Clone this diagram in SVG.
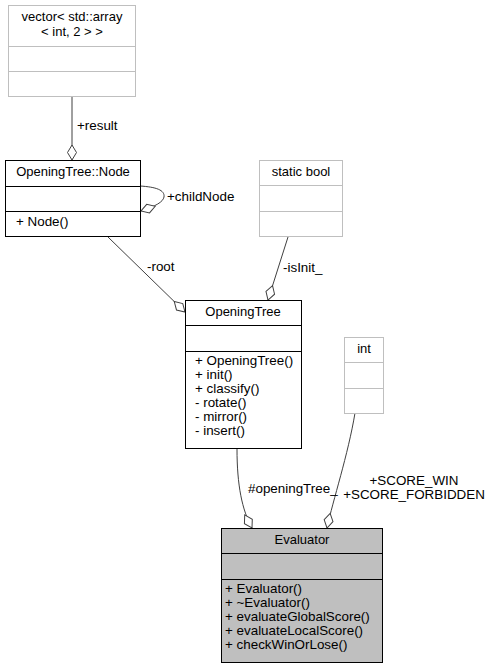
<svg xmlns="http://www.w3.org/2000/svg" width="491" height="669" viewBox="0 0 491 669">
<style>
text{font-family:"Liberation Sans",Arial,sans-serif;font-size:13.4px;fill:#000}
.t{text-anchor:middle;font-size:13px}
.c{text-anchor:middle}
.box{fill:#fff;stroke:#000;stroke-width:1}
.ext{fill:#fff;stroke:#bfbfbf;stroke-width:1}
.sel{fill:#bfbfbf;stroke:#000;stroke-width:1}
.ln{stroke:#000;stroke-width:1}
.lg{stroke:#bfbfbf;stroke-width:1}
.e{fill:none;stroke:#404040;stroke-width:1;marker-end:url(#dia)}
</style>
<defs>
<marker id="dia" markerUnits="userSpaceOnUse" markerWidth="20" markerHeight="12" viewBox="0 0 20 12" refX="17" refY="6" orient="auto">
<path d="M2,6 L9.5,1.5 L17,6 L9.5,10.5 Z" fill="#fff" stroke="#404040" stroke-width="1"/>
</marker>
</defs>
<g id="connectors">
<path class="e" d="M72,97 L72,160"/>
<path class="e" d="M140,186 C156,187 165,190 164,197 C163,202 156,206 141,211"/>
<path class="e" d="M108,237 L185,312"/>
<path class="e" d="M288,237 L268,300"/>
<path class="e" d="M237,449 C237,485 242,510 252,528"/>
<path class="e" d="M355,413 C348,455 333,500 327,528"/>
<text x="77" y="130">+result</text>
<text x="167" y="201">+childNode</text>
<text x="147" y="271">-root</text>
<text x="283" y="272">-isInit_</text>
<text x="248" y="493">#openingTree_</text>
<text class="c" x="414" y="485">+SCORE_WIN</text>
<text class="c" x="414" y="499">+SCORE_FORBIDDEN</text>
</g>
<g id="vector">
<rect class="ext" x="8.5" y="5.5" width="127" height="91"/>
<line class="lg" x1="8.5" y1="46.5" x2="135.5" y2="46.5"/>
<line class="lg" x1="8.5" y1="71.5" x2="135.5" y2="71.5"/>
<text class="t" x="72" y="21">vector&lt; std::array</text>
<text class="t" x="72" y="36">&lt; int, 2 &gt; &gt;</text>
</g>
<g id="node">
<rect class="box" x="5.5" y="160.5" width="135" height="76"/>
<line class="ln" x1="5.5" y1="186.5" x2="140.5" y2="186.5"/>
<line class="ln" x1="5.5" y1="211.5" x2="140.5" y2="211.5"/>
<text class="t" x="73" y="176">OpeningTree::Node</text>
<text x="16" y="226">+ Node()</text>
</g>
<g id="staticbool">
<rect class="ext" x="259.5" y="160.5" width="83" height="76"/>
<line class="lg" x1="259.5" y1="185.5" x2="342.5" y2="185.5"/>
<line class="lg" x1="259.5" y1="211.5" x2="342.5" y2="211.5"/>
<text class="t" x="301" y="176">static bool</text>
</g>
<g id="openingtree">
<rect class="box" x="185.5" y="300.5" width="116" height="148"/>
<line class="ln" x1="185.5" y1="325.5" x2="301.5" y2="325.5"/>
<line class="ln" x1="185.5" y1="351.5" x2="301.5" y2="351.5"/>
<text class="t" x="243" y="316">OpeningTree</text>
<text x="195" y="365">+ OpeningTree()</text>
<text x="195" y="379">+ init()</text>
<text x="195" y="393">+ classify()</text>
<text x="195" y="407">- rotate()</text>
<text x="195" y="421">- mirror()</text>
<text x="195" y="435">- insert()</text>
</g>
<g id="int">
<rect class="ext" x="344.5" y="337.5" width="39" height="76"/>
<line class="lg" x1="344.5" y1="362.5" x2="383.5" y2="362.5"/>
<line class="lg" x1="344.5" y1="388.5" x2="383.5" y2="388.5"/>
<text class="t" x="364" y="353">int</text>
</g>
<g id="evaluator">
<rect class="sel" x="221.5" y="528.5" width="161" height="134"/>
<line class="ln" x1="221.5" y1="553.5" x2="382.5" y2="553.5"/>
<line class="ln" x1="221.5" y1="579.5" x2="382.5" y2="579.5"/>
<text class="t" x="302" y="544">Evaluator</text>
<text x="225" y="593">+ Evaluator()</text>
<text x="225" y="607">+ ~Evaluator()</text>
<text x="225" y="621">+ evaluateGlobalScore()</text>
<text x="225" y="635">+ evaluateLocalScore()</text>
<text x="225" y="649">+ checkWinOrLose()</text>
</g>
</svg>
